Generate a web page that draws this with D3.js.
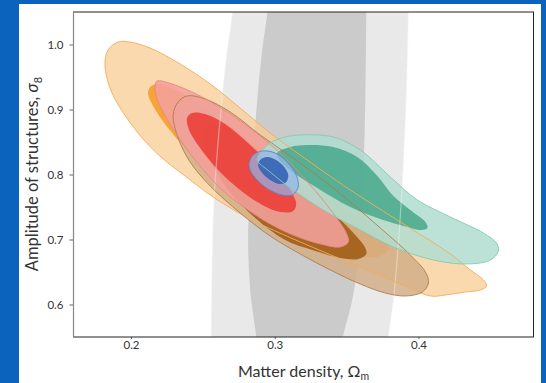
<!DOCTYPE html>
<html>
<head>
<meta charset="utf-8">
<script src="https://cdn.jsdelivr.net/npm/d3@7"></script>
<style>
  body { margin: 0; background: #0c63bd; }
  svg { display: block; }
  text { font-family: Lato, "Noto Sans", sans-serif; fill: #333; }
</style>
</head>
<body>
<svg id="chart" width="546" height="383"></svg>
<script>
// axis ticks
var omegaTicks = [0.2, 0.3, 0.4];
var sigmaTicks = [0.6, 0.7, 0.8, 0.9, 1.0];

// grey band (outer / inner), [Omega_m, sigma_8]
var bandOuter = [[0.2711, 1.084], [0.2711, 1.0608], [0.2662, 0.9762], [0.2613, 0.8685], [0.2578, 0.7608],
  [0.2564, 0.6531], [0.2558, 0.5377], [0.2558, 0.522], [0.3783, 0.522], [0.3783, 0.5377], [0.3825, 0.6069],
  [0.3867, 0.7146], [0.3895, 0.8223], [0.3916, 0.9300], [0.3930, 1.0608], [0.3930, 1.084]];
var bandInner = [[0.2954, 1.084], [0.2954, 1.0608], [0.2913, 0.9915], [0.2878, 0.9146], [0.2843, 0.8069],
  [0.2815, 0.7146], [0.2829, 0.6223], [0.2878, 0.5377], [0.2878, 0.522], [0.3463, 0.522], [0.3463, 0.5377],
  [0.3539, 0.6069], [0.3581, 0.6685], [0.3609, 0.7608], [0.3630, 0.9146], [0.3637, 1.0608], [0.3637, 1.084]];

// orange contours
var orangeOuter = [[0.1819, 0.9685], [0.1840, 0.9915], [0.1910, 1.0038], [0.1993, 1.0038], [0.2133, 0.9946],
  [0.2342, 0.9700], [0.2551, 0.9392], [0.2759, 0.9023], [0.2968, 0.8638], [0.3177, 0.8300], [0.3525, 0.7762],
  [0.3874, 0.7269], [0.4222, 0.6777], [0.4361, 0.6531], [0.4452, 0.6377], [0.4473, 0.6285], [0.4431, 0.6223],
  [0.4326, 0.6192], [0.4187, 0.6146], [0.4083, 0.6131], [0.3874, 0.6315], [0.3525, 0.6638], [0.3177, 0.6962],
  [0.2829, 0.7315], [0.2571, 0.7654], [0.2376, 0.7977], [0.2216, 0.8254], [0.2049, 0.8638], [0.1868, 0.9254]];
var orangeInner = [[0.2133, 0.9346], [0.2202, 0.9392], [0.2376, 0.9223], [0.2620, 0.8869], [0.2899, 0.8408],
  [0.3177, 0.7946], [0.3456, 0.7515], [0.3665, 0.7208], [0.3776, 0.6992], [0.3790, 0.6838], [0.3734, 0.6746],
  [0.3595, 0.6731], [0.3386, 0.6838], [0.3177, 0.7023], [0.2899, 0.7392], [0.2620, 0.7885], [0.2411, 0.8331],
  [0.2258, 0.8715], [0.2154, 0.9054], [0.2119, 0.9238]];

// brown contours
var brownOuter = [[0.2293, 0.8915], [0.2328, 0.9115], [0.2390, 0.9208], [0.2516, 0.9162], [0.2690, 0.8962],
  [0.2899, 0.8608], [0.3108, 0.8285], [0.3317, 0.7946], [0.3525, 0.7577], [0.3734, 0.7177], [0.3943, 0.6762],
  [0.4048, 0.6500], [0.4069, 0.6331], [0.4027, 0.6192], [0.3909, 0.6131], [0.3769, 0.6177], [0.3595, 0.6315],
  [0.3386, 0.6531], [0.3177, 0.6777], [0.2968, 0.7054], [0.2759, 0.7408], [0.2551, 0.7823], [0.2411, 0.8192],
  [0.2328, 0.8562]];
var brownInner = [[0.2502, 0.8685], [0.2551, 0.8762], [0.2634, 0.8746], [0.2794, 0.8531], [0.3003, 0.8146],
  [0.3212, 0.7762], [0.3421, 0.7377], [0.3560, 0.7069], [0.3630, 0.6869], [0.3637, 0.6777], [0.3581, 0.6700],
  [0.3456, 0.6715], [0.3261, 0.6838], [0.3073, 0.6992], [0.2864, 0.7331], [0.2676, 0.7762], [0.2551, 0.8223],
  [0.2495, 0.8500]];

// pink / red contours
var pinkOuter = [[0.2181, 0.9438], [0.2286, 0.9392], [0.2481, 0.9208], [0.2690, 0.8931], [0.2899, 0.8592],
  [0.3073, 0.8254], [0.3247, 0.7838], [0.3400, 0.7423], [0.3498, 0.7100], [0.3512, 0.6962], [0.3456, 0.6885],
  [0.3317, 0.6931], [0.3142, 0.7054], [0.2968, 0.7238], [0.2794, 0.7485], [0.2620, 0.7792], [0.2446, 0.8223],
  [0.2307, 0.8654], [0.2223, 0.8962], [0.2175, 0.9208], [0.2168, 0.9362]];
var redInner = [[0.2390, 0.8869], [0.2425, 0.8946], [0.2516, 0.8931], [0.2655, 0.8777], [0.2829, 0.8454],
  [0.3003, 0.8069], [0.3108, 0.7762], [0.3149, 0.7546], [0.3128, 0.7438], [0.3038, 0.7423], [0.2913, 0.7531],
  [0.2759, 0.7762], [0.2606, 0.8069], [0.2481, 0.8408], [0.2404, 0.8685]];

// green contours
var tealOuter = [[0.2899, 0.8331], [0.2968, 0.8485], [0.3073, 0.8577], [0.3177, 0.8608], [0.3407, 0.8577],
  [0.3595, 0.8377], [0.3804, 0.7962], [0.3992, 0.7608], [0.4222, 0.7346], [0.4452, 0.7100], [0.4542, 0.6946],
  [0.4556, 0.6823], [0.4500, 0.6685], [0.4340, 0.6623], [0.4103, 0.6685], [0.3825, 0.6885], [0.3595, 0.7146],
  [0.3338, 0.7454], [0.3128, 0.7762], [0.2968, 0.8038], [0.2878, 0.8223]];
var tealInner = [[0.3017, 0.8331], [0.3108, 0.8423], [0.3226, 0.8454], [0.3407, 0.8423], [0.3574, 0.8269],
  [0.3714, 0.7977], [0.3825, 0.7669], [0.3943, 0.7454], [0.4048, 0.7269], [0.4062, 0.7177], [0.4013, 0.7146],
  [0.3923, 0.7192], [0.3755, 0.7300], [0.3525, 0.7500], [0.3296, 0.7792], [0.3108, 0.8069], [0.3024, 0.8254]];

// blue contours
var blueOuter = [[0.2822, 0.8177], [0.2850, 0.8300], [0.2913, 0.8362], [0.3003, 0.8331], [0.3087, 0.8192],
  [0.3149, 0.7992], [0.3163, 0.7808], [0.3122, 0.7685], [0.3052, 0.7685], [0.2954, 0.7777], [0.2871, 0.7931],
  [0.2829, 0.8069]];
var blueInner = [[0.2885, 0.8131], [0.2899, 0.8223], [0.2947, 0.8269], [0.3010, 0.8223], [0.3066, 0.8115],
  [0.3094, 0.7992], [0.3080, 0.7885], [0.3031, 0.7854], [0.2968, 0.7915], [0.2913, 0.8023]];

var svg = d3.select("#chart");

// white panel inside the blue frame
svg.append("rect").attr("x", 0).attr("y", 0).attr("width", 546).attr("height", 383).attr("fill", "#0c63bd");
svg.append("rect").attr("x", 19).attr("y", 4).attr("width", 522).attr("height", 379).attr("fill", "#fff");

var x = d3.scaleLinear().domain([0.16, 0.48]).range([73.5, 533.5]);
var y = d3.scaleLinear().domain([0.55, 1.05]).range([337, 12]);

svg.append("clipPath").attr("id", "plot-clip")
  .append("rect")
    .attr("x", x(0.16)).attr("y", y(1.05))
    .attr("width", x(0.48) - x(0.16)).attr("height", y(0.55) - y(1.05));

var contour = d3.line()
    .x(function (d) { return x(d[0]); })
    .y(function (d) { return y(d[1]); })
    .curve(d3.curveCatmullRomClosed.alpha(0.5));

var plot = svg.append("g").attr("clip-path", "url(#plot-clip)");

// fills, back to front
var fills = [
  { pts: bandOuter, fill: "#e9e9e9", op: 1 },
  { pts: bandInner, fill: "#cbcbcb", op: 1 },
  { pts: orangeOuter, fill: "#facc93", op: 0.75 },
  { pts: orangeInner, fill: "#f59c2a", op: 0.9 },
  { pts: brownOuter, fill: "#d2ae88", op: 0.85 },
  { pts: brownInner, fill: "#a3611b", op: 0.95 },
  { pts: pinkOuter, fill: "#f4a09c", op: 0.88 },
  { pts: redInner, fill: "#ec3f3a", op: 0.9 },
  { pts: tealOuter, fill: "#b0ddd0", op: 0.85 },
  { pts: tealInner, fill: "#52ad91", op: 0.95 },
  { pts: blueOuter, fill: "#93b6ee", op: 0.7 },
  { pts: blueInner, fill: "#3a67b5", op: 0.95 }
];

plot.selectAll("path.fill")
    .data(fills)
  .enter().append("path")
    .attr("class", "fill")
    .attr("d", function (d) { return contour(d.pts); })
    .attr("fill", function (d) { return d.fill; })
    .attr("fill-opacity", function (d) { return d.op; });

// outlines drawn on top of everything
var lines = [
  { pts: bandOuter, stroke: "#f2f2f2", op: 0.45, w: 1.2 },
  { pts: orangeOuter, stroke: "#f2ac5c", op: 0.9, w: 1 },
  { pts: brownOuter, stroke: "#a97b4a", op: 0.85, w: 1 },
  { pts: pinkOuter, stroke: "#ea8582", op: 0.85, w: 1 },
  { pts: tealOuter, stroke: "#86c9b4", op: 0.9, w: 1 },
  { pts: blueOuter, stroke: "#5a86cc", op: 0.9, w: 1 }
];

plot.selectAll("path.line")
    .data(lines)
  .enter().append("path")
    .attr("class", "line")
    .attr("d", function (d) { return contour(d.pts); })
    .attr("fill", "none")
    .attr("stroke", function (d) { return d.stroke; })
    .attr("stroke-opacity", function (d) { return d.op; })
    .attr("stroke-width", function (d) { return d.w; });

// axes
var yAxis = svg.append("g")
    .attr("transform", "translate(" + x(0.16) + ",0)")
    .call(d3.axisLeft(y).tickValues(sigmaTicks).tickFormat(d3.format(".1f")).tickSize(4).tickPadding(6));
yAxis.select(".domain").remove();
yAxis.selectAll(".tick line").attr("stroke", "#666");
yAxis.selectAll(".tick text").attr("font-size", 11.5).attr("fill", "#333");

var xAxis = svg.append("g")
    .attr("transform", "translate(0," + y(0.55) + ")")
    .call(d3.axisBottom(x).tickValues(omegaTicks).tickFormat(d3.format(".1f")).tickSize(2).tickPadding(2));
xAxis.select(".domain").remove();
xAxis.selectAll(".tick line").attr("stroke", "#666");
xAxis.selectAll(".tick text").attr("font-size", 11.5).attr("fill", "#333");

// frame
svg.append("rect")
    .attr("x", x(0.16)).attr("y", y(1.05))
    .attr("width", x(0.48) - x(0.16)).attr("height", y(0.55) - y(1.05))
    .attr("fill", "none").attr("stroke", "#222").attr("stroke-width", 1);
svg.append("line")
    .attr("x1", x(0.16)).attr("x2", x(0.16)).attr("y1", y(1.05)).attr("y2", y(0.55))
    .attr("stroke", "#888").attr("stroke-width", 1.2);

// axis titles
var xt = svg.append("text")
    .attr("x", (x(0.16) + x(0.48)) / 2).attr("y", 377)
    .attr("text-anchor", "middle").attr("font-size", 16);
xt.append("tspan").text("Matter density, \u03a9");
xt.append("tspan").attr("font-size", 10.5).attr("dy", 3).text("m");

var yt = svg.append("text")
    .attr("transform", "translate(38,174) rotate(-90)")
    .attr("text-anchor", "middle").attr("font-size", 16.5);
yt.append("tspan").text("Amplitude of structures, ");
yt.append("tspan").attr("font-style", "italic").text("\u03c3");
yt.append("tspan").attr("font-size", 11).attr("dy", 4).text("8");
</script>
</body>
</html>
